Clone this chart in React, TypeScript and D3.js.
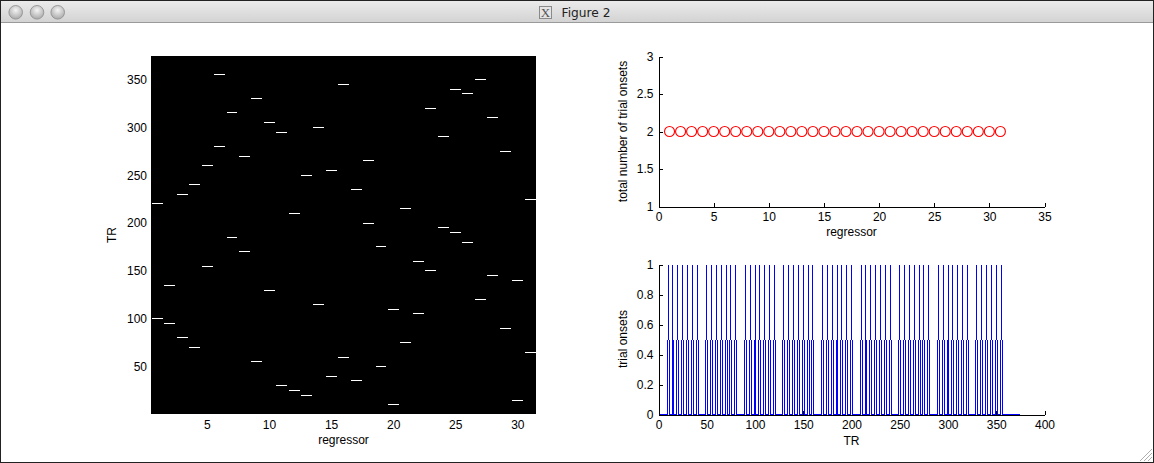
import React, { useEffect, useRef } from 'react';
import * as d3 from 'd3';

// regressor index (columns of the design image)
const regressors = [1, 2, 3, 4, 5, 6, 7, 8, 9, 10, 11, 12, 13, 14, 15, 16, 17, 18, 19, 20, 21, 22, 23, 24, 25, 26, 27, 28, 29, 30, 31];

// onset TRs for each regressor (two trials per regressor)
const onsets: number[][] = [
  [100, 220], [95, 135], [80, 230], [70, 240], [155, 260], [280, 355], [185, 315], [170, 270],
  [55, 330], [130, 305], [30, 295], [25, 210], [20, 250], [115, 300], [40, 255], [60, 345],
  [35, 235], [200, 265], [50, 175], [10, 110], [75, 215], [105, 160], [150, 320], [195, 290],
  [190, 340], [180, 335], [120, 350], [145, 310], [90, 275], [15, 140], [65, 225],
];

const nTR = 374;

const imgXTicks = [5, 10, 15, 20, 25, 30];
const imgYTicks = [50, 100, 150, 200, 250, 300, 350];
const countXTicks = [0, 5, 10, 15, 20, 25, 30, 35];
const countYTicks = [1, 1.5, 2, 2.5, 3];
const trXTicks = [0, 50, 100, 150, 200, 250, 300, 350, 400];
const trYTicks = [0, 0.2, 0.4, 0.6, 0.8, 1];

const FONT = '"Liberation Sans", Arial, Helvetica, sans-serif';
const W = 1154;
const H = 463;

// steep segments drawn like a 1px raster: half at the start column, half at the end column
class StepY {
  _context: any;
  _x = NaN;
  _y = NaN;
  _point = 0;
  constructor(context: any) {
    this._context = context;
  }
  areaStart() {}
  areaEnd() {}
  lineStart() {
    this._x = this._y = NaN;
    this._point = 0;
  }
  lineEnd() {}
  point(x: number, y: number) {
    if (this._point === 0) {
      this._point = 1;
      this._context.moveTo(x, y);
    } else if (y === this._y) {
      this._context.lineTo(x, y);
    } else {
      const ym = (this._y + y) / 2;
      this._context.lineTo(this._x, ym);
      this._context.moveTo(x, ym);
      this._context.lineTo(x, y);
    }
    this._x = x;
    this._y = y;
  }
}
const curveStepY = (context: any) => new StepY(context);

export default function App() {
  const svgRef = useRef<SVGSVGElement>(null);

  useEffect(() => {
    if (!svgRef.current) return;
    const svg = d3.select(svgRef.current);
    svg.selectAll('*').remove();

    // ---- window chrome ----
    const defs = svg.append('defs');
    const tb = defs.append('linearGradient').attr('id', 'titlebar').attr('x1', 0).attr('y1', 0).attr('x2', 0).attr('y2', 1);
    tb.append('stop').attr('offset', '0%').attr('stop-color', '#ececec');
    tb.append('stop').attr('offset', '100%').attr('stop-color', '#d2d2d2');
    const btn = defs.append('radialGradient').attr('id', 'btn').attr('cx', '50%').attr('cy', '35%').attr('r', '65%');
    btn.append('stop').attr('offset', '0%').attr('stop-color', '#f4f4f4');
    btn.append('stop').attr('offset', '100%').attr('stop-color', '#a9a9a9');

    svg.append('rect').attr('width', W).attr('height', H).attr('fill', '#fff');
    svg.append('rect').attr('x', 0).attr('y', 0).attr('width', W).attr('height', 23).attr('fill', 'url(#titlebar)');
    svg.append('line').attr('x1', 0).attr('x2', W).attr('y1', 22.5).attr('y2', 22.5).attr('stroke', '#9a9a9a');

    [15.7, 37, 57.7].forEach(cx => {
      svg.append('circle').attr('cx', cx).attr('cy', 12.3).attr('r', 6.8)
        .attr('fill', 'url(#btn)').attr('stroke', '#8c8c8c').attr('stroke-width', 0.8);
    });

    // X11 icon + title
    svg.append('rect').attr('x', 539.5).attr('y', 6.5).attr('width', 12).attr('height', 12)
      .attr('fill', '#e4e4e4').attr('stroke', '#8a8a8a');
    svg.append('text').attr('x', 545.5).attr('y', 17).attr('text-anchor', 'middle')
      .attr('font-family', '"Liberation Serif", serif').attr('font-size', 13).attr('fill', '#555').text('X');
    svg.append('text').attr('x', 586).attr('y', 16.5).attr('text-anchor', 'middle')
      .attr('font-family', '"DejaVu Sans", sans-serif').attr('font-size', 12.2).attr('fill', '#222').text('Figure 2');

    // resize grip
    [4, 8, 12].forEach(k => {
      svg.append('line').attr('x1', W - 2 - k).attr('y1', H - 2).attr('x2', W - 2).attr('y2', H - 2 - k)
        .attr('stroke', '#999').attr('stroke-width', 0.8);
    });

    // window border
    svg.append('rect').attr('x', 0.5).attr('y', 0.5).attr('width', W - 1).attr('height', H - 1)
      .attr('fill', 'none').attr('stroke', '#222');

    const styleAxis = (g: d3.Selection<SVGGElement, unknown, null, undefined>) => {
      g.attr('font-family', FONT).attr('font-size', 12);
      g.selectAll('.domain').attr('stroke', '#000').attr('shape-rendering', 'crispEdges');
      g.selectAll('.tick line').attr('stroke', '#000').attr('shape-rendering', 'crispEdges');
      g.selectAll('.tick text').attr('fill', '#000');
    };

    const label = (x: number, y: number, text: string, rotate = false) => {
      svg.append('text')
        .attr('transform', rotate ? `translate(${x},${y}) rotate(-90)` : `translate(${x},${y})`)
        .attr('text-anchor', 'middle').attr('font-family', FONT).attr('font-size', 12)
        .attr('fill', '#000').text(text);
    };

    // ---- left: design matrix image ----
    const ix = d3.scaleLinear().domain([0.5, regressors.length + 0.5]).range([151, 536]);
    const iy = d3.scaleLinear().domain([0.5, nTR + 0.5]).range([414, 56]);

    svg.append('rect').attr('x', ix(0.5)).attr('y', iy(nTR + 0.5))
      .attr('width', ix(regressors.length + 0.5) - ix(0.5)).attr('height', iy(0.5) - iy(nTR + 0.5))
      .attr('fill', '#000');

    const dashes = regressors.flatMap((r, i) => onsets[i].map(t => ({ r, t })));
    svg.append('g').selectAll('line').data(dashes).enter().append('line')
      .attr('x1', d => ix(d.r - 0.5) + 1).attr('x2', d => ix(d.r + 0.5) - 0.5)
      .attr('y1', d => Math.floor(iy(d.t)) + 0.5).attr('y2', d => Math.floor(iy(d.t)) + 0.5)
      .attr('stroke', '#fff').attr('stroke-width', 1).attr('shape-rendering', 'crispEdges');

    svg.append('g').attr('transform', `translate(0,${iy(0.5)})`)
      .call(d3.axisBottom(ix).tickValues(imgXTicks).tickSize(0).tickPadding(6))
      .call(styleAxis)
      .call(g => g.select('.domain').remove());
    svg.append('g').attr('transform', `translate(${ix(0.5)},0)`)
      .call(d3.axisLeft(iy).tickValues(imgYTicks).tickSize(0).tickPadding(4))
      .call(styleAxis)
      .call(g => g.select('.domain').remove());
    label(343.5, 444, 'regressor');
    label(116, 235, 'TR', true);

    // ---- top right: number of trial onsets per regressor ----
    const counts = onsets.map(o => o.length);
    const cx = d3.scaleLinear().domain([0, 35]).range([658.5, 1044.5]);
    const cy = d3.scaleLinear().domain([1, 3]).range([206.5, 56.5]);

    svg.append('g').attr('transform', `translate(0,${cy(1)})`)
      .call(d3.axisBottom(cx).tickValues(countXTicks).tickFormat(d3.format('~g')).tickSizeInner(-4).tickSizeOuter(0).tickPadding(6))
      .call(styleAxis);
    svg.append('g').attr('transform', `translate(${cx(0)},0)`)
      .call(d3.axisLeft(cy).tickValues(countYTicks).tickFormat(d3.format('~g')).tickSizeInner(-4).tickSizeOuter(0).tickPadding(5))
      .call(styleAxis);

    svg.append('g').selectAll('circle').data(regressors).enter().append('circle')
      .attr('cx', (d) => cx(d)).attr('cy', (_, i) => cy(counts[i])).attr('r', 5)
      .attr('fill', 'none').attr('stroke', '#ff0000').attr('stroke-width', 1.1);

    label(851.5, 235.5, 'regressor');
    label(627, 131.5, 'total number of trial onsets', true);

    // ---- bottom right: trial onsets over TRs ----
    const trs = d3.range(1, nTR + 1);
    const series = trs.map(t => ({ t, v: onsets.reduce((s, o) => s + o.filter(u => u === t).length, 0) }));
    const tx = d3.scaleLinear().domain([0, 400]).range([658.5, 1044.5]);
    const ty = d3.scaleLinear().domain([0, 1]).range([414.5, 264.5]);

    svg.append('g').attr('transform', `translate(0,${ty(0)})`)
      .call(d3.axisBottom(tx).tickValues(trXTicks).tickFormat(d3.format('~g')).tickSizeInner(-4).tickSizeOuter(0).tickPadding(6))
      .call(styleAxis);
    svg.append('g').attr('transform', `translate(${tx(0)},0)`)
      .call(d3.axisLeft(ty).tickValues(trYTicks).tickFormat(d3.format('~g')).tickSizeInner(-4).tickSizeOuter(0).tickPadding(5))
      .call(styleAxis);

    const line = d3.line<{ t: number; v: number }>()
      .x(d => Math.round(tx(d.t) - 0.5) + 0.5)
      .y(d => ty(d.v))
      .curve(curveStepY as any);
    svg.append('path').datum(series).attr('d', line)
      .attr('fill', 'none').attr('stroke', '#0000ff').attr('stroke-width', 1)
      .attr('shape-rendering', 'crispEdges');

    label(851.5, 444.5, 'TR');
    label(627, 339, 'trial onsets', true);
  }, []);

  return (
    <svg
      ref={svgRef}
      width={W}
      height={H}
      style={{ position: 'absolute', left: 0, top: 0, display: 'block' }}
    />
  );
}
